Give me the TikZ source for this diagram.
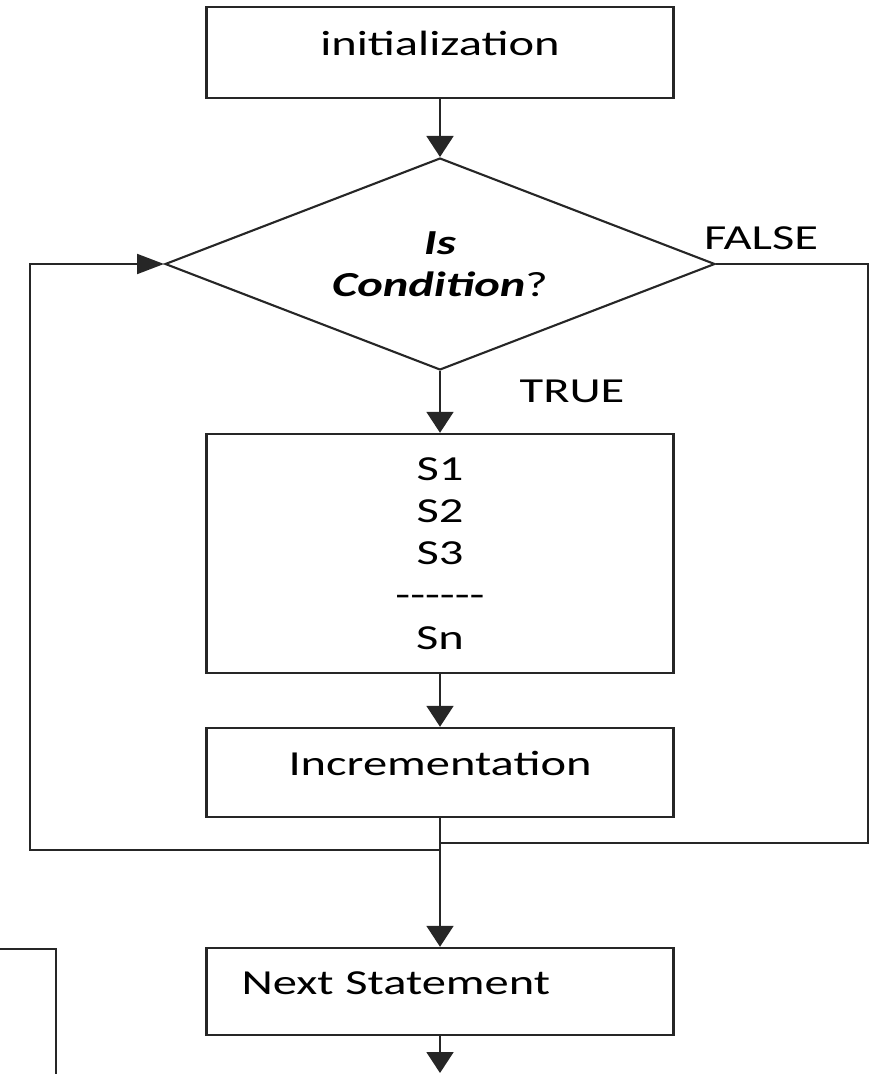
\documentclass[tikz,border=0pt]{standalone}
\usepackage{fontspec}
\newfontfamily\flowfont[FakeStretch=1.38]{Carlito}
\usetikzlibrary{shapes.geometric}
\usetikzlibrary{arrows.meta}

\tikzset{
  box/.style={draw=black!85, line width=1.4pt, minimum width=9.34cm, inner sep=0pt},
  onebox/.style={box, text height=0.5cm, text depth=0.38cm},
  decision/.style={diamond, draw=black!85, line width=1.2pt, minimum width=11cm, minimum height=4.24cm, inner sep=0pt, aspect=2.6, align=center},
  vflow/.style={draw=black!85, line width=1.1pt, -{Triangle[length=0.42cm,width=0.54cm]}},
  hflow/.style={draw=black!85, line width=1.1pt, -{Triangle[length=0.54cm,width=0.4cm]}},
}

\begin{document}
\begin{tikzpicture}[x=0.02cm, y=-0.02cm, font=\flowfont\fontsize{20pt}{24pt}\selectfont]
                    \useasboundingbox (0,0) rectangle (876,1074);
                    \clip (0,0) rectangle (876,1074);

                    \node (init) [onebox, minimum height=1.82cm] at (440,52.5) {initialization};
                    \node (cond) [decision] at (440,264) {\textbf{\textit{Is}}\\\textbf{\textit{Condition}}?};
                    \node (body) [box, minimum height=4.78cm, align=center] at (440,553.5) {S1\\S2\\S3\\-\kern0pt-\kern0pt-\kern0pt-\kern0pt-\kern0pt-\\Sn};
                    \node (incr) [onebox, minimum height=1.78cm] at (440,772.5) {Incrementation};
                    \node (next) [onebox, minimum height=1.74cm, text width=7.94cm, align=left, inner xsep=0.7cm] at (440,991.5) {Next Statement};
                    \node (sidebox) [box, minimum width=3cm, minimum height=4cm, anchor=north east] at (57,948) {};

                    \node (falselbl) at (761,238) {FALSE};
                    \node (truelbl) at (572,391) {TRUE};

                    \coordinate (loopbot) at (30,850);
                    \coordinate (falsecorner) at (868,843);
                    \coordinate (exitend) at (440,1073);

                    \draw[vflow] (init.south) -- (cond.north);
                    \draw[vflow] (cond.south) -- (body.north);
                    \draw[vflow] (body.south) -- (incr.north);
                    \draw[hflow] (incr.south) -- (incr.south |- loopbot) -- (loopbot) -- (loopbot |- cond.west) -- (cond.west);
                    \draw[vflow] (cond.east) -| (falsecorner) -| (next.north);
                    \draw[vflow] (next.south) -- (exitend);
                \end{tikzpicture}
\end{document}
